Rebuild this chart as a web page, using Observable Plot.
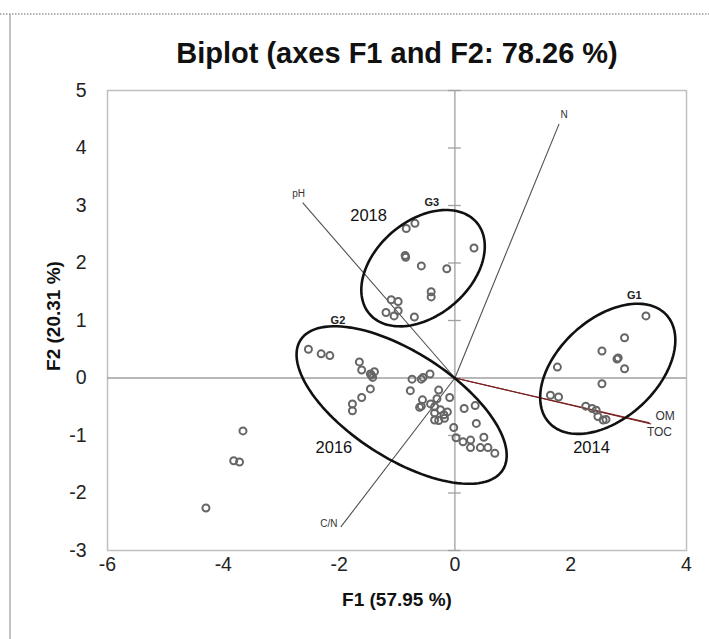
<!DOCTYPE html>
<html>
<head>
<meta charset="utf-8">
<script src="https://cdn.jsdelivr.net/npm/d3@7"></script>
<script src="https://cdn.jsdelivr.net/npm/@observablehq/plot@0.6"></script>
<style>
  html, body { margin: 0; padding: 0; background: #fff; }
  #chart { width: 709px; height: 639px; }
</style>
</head>
<body>
<div id="chart"></div>
<script>
// ---- Data ----
const title = "Biplot (axes F1 and F2: 78.26 %)";
const xTitle = "F1 (57.95 %)";
const yTitle = "F2 (20.31 %)";
const xTicks = [-6, -4, -2, 0, 2, 4];
const yTicks = [-3, -2, -1, 0, 1, 2, 3, 4, 5];

// observations (F1, F2)
const g1Points = [
  [3.30, 1.08], [2.93, 0.70], [2.54, 0.47], [2.80, 0.33], [2.82, 0.35],
  [2.93, 0.16], [1.77, 0.19], [2.54, -0.10], [1.65, -0.30], [1.79, -0.33],
  [2.26, -0.49], [2.37, -0.53], [2.44, -0.56], [2.47, -0.67], [2.56, -0.73], [2.61, -0.72]
];
const g2Points = [
  [-2.53, 0.50], [-2.31, 0.42], [-2.16, 0.39], [-1.65, 0.28], [-1.61, 0.14],
  [-1.46, 0.07], [-1.39, 0.11], [-1.42, 0.01], [-1.44, 0.05], [-1.46, -0.19],
  [-1.61, -0.34], [-1.77, -0.45], [-1.77, -0.57], [-0.74, -0.02], [-0.58, -0.02],
  [-0.55, 0.01], [-0.43, 0.07], [-0.77, -0.22], [-0.28, -0.21], [-0.09, -0.34],
  [-0.31, -0.36], [-0.56, -0.38], [-0.61, -0.51], [-0.58, -0.49], [-0.42, -0.45],
  [-0.35, -0.50], [-0.25, -0.55], [-0.13, -0.59], [-0.35, -0.61], [-0.19, -0.64],
  [-0.35, -0.73], [-0.28, -0.74], [-0.18, -0.70], [0.16, -0.53], [0.35, -0.48],
  [0.37, -0.79], [-0.02, -0.86], [0.02, -1.04], [0.14, -1.11], [0.27, -1.08],
  [0.27, -1.21], [0.50, -1.03], [0.44, -1.21], [0.57, -1.21], [0.69, -1.31]
];
const g3Points = [
  [-0.84, 2.60], [-0.69, 2.69], [0.33, 2.26], [-0.86, 2.13], [-0.85, 2.10],
  [-0.58, 1.95], [-0.14, 1.90], [-0.41, 1.50], [-0.41, 1.41], [-1.10, 1.36],
  [-0.98, 1.33], [-0.98, 1.17], [-1.19, 1.14], [-1.05, 1.08], [-0.70, 1.06]
];
const otherPoints = [
  [-3.66, -0.92], [-3.82, -1.44], [-3.72, -1.46], [-4.30, -2.26]
];

// variables (loadings, scaled)
const varNames = ["N", "pH", "C/N", "OM", "TOC"];
const varF1 = [1.80, -2.63, -1.97, 3.39, 3.36];
const varF2 = [4.42, 3.05, -2.59, -0.80, -0.78];

// confidence ellipses
const ellipseNames = ["G1", "G2", "G3"];
const ellipseYears = ["2014", "2016", "2018"];
const ellipseCx = [2.64, -0.92, -0.55];
const ellipseCy = [0.16, -0.47, 1.91];
const ellipseA = [1.38, 2.08, 1.22];
const ellipseB = [0.86, 0.92, 0.82];
const ellipseAngle = [43, -33, 41];

// ---- Build tables ----
const obs = [...g1Points, ...g2Points, ...g3Points, ...otherPoints].map(([x, y]) => ({x, y}));
const vars = varNames.map((name, i) => ({name, x: varF1[i], y: varF2[i]}));
const ellipsePts = [];
ellipseNames.forEach((g, i) => {
  const t = ellipseAngle[i] * Math.PI / 180;
  for (let k = 0; k <= 120; k++) {
    const a = (k / 120) * 2 * Math.PI;
    const ex = ellipseA[i] * Math.cos(a), ey = ellipseB[i] * Math.sin(a);
    ellipsePts.push({g, x: ellipseCx[i] + ex * Math.cos(t) - ey * Math.sin(t),
                         y: ellipseCy[i] + ex * Math.sin(t) + ey * Math.cos(t)});
  }
});
// label anchors (data space) for group / year labels
const groupLabels = [
  {t: "G1", x: 3.10, y: 1.44}, {t: "G2", x: -2.02, y: 1.00}, {t: "G3", x: -0.40, y: 3.05}
];
const yearLabels = [
  {t: "2014", x: 2.36, y: -1.22}, {t: "2016", x: -2.09, y: -1.21}, {t: "2018", x: -1.49, y: 2.83}
];
const tickHalf = 0.11;

const font = "'Liberation Sans', Arial, sans-serif";
const vec = n => vars.filter(d => d.name === n);
const fmt = d => String(d);

const chart = Plot.plot({
  width: 709, height: 639,
  marginLeft: 107, marginRight: 23, marginTop: 90, marginBottom: 89,
  style: {fontFamily: font, background: "white", overflow: "visible"},
  x: {domain: [-6, 4]},
  y: {domain: [-3, 5]},
  marks: [
    Plot.frame({stroke: "#c0c0c0", strokeWidth: 1.5}),
    Plot.ruleX([0], {stroke: "#a0a0a0", strokeWidth: 1.3}),
    Plot.ruleY([0], {stroke: "#a0a0a0", strokeWidth: 1.3}),
    Plot.ruleY(yTicks, {y: d => d, x1: -tickHalf, x2: tickHalf, stroke: "#a0a0a0", strokeWidth: 1.3}),
    Plot.axisX({ticks: xTicks, tickFormat: fmt, tickSize: 0, tickPadding: 7, label: null, fontSize: 19.5}),
    Plot.axisY({ticks: yTicks, tickFormat: fmt, tickSize: 0, tickPadding: 21, label: null, fontSize: 19.5}),
    Plot.link(vars.filter(d => d.name !== "OM" && d.name !== "TOC"), {x1: 0, y1: 0, x2: "x", y2: "y", stroke: "#505050", strokeWidth: 1.1}),
    Plot.link(vars.filter(d => d.name === "OM" || d.name === "TOC"), {x1: 0, y1: 0, x2: "x", y2: "y", stroke: "#7a1f1f", strokeWidth: 1.1}),
    Plot.dot(obs, {x: "x", y: "y", r: 3.5, stroke: "#666", strokeWidth: 2, fill: "none"}),
    Plot.line(ellipsePts, {x: "x", y: "y", z: "g", stroke: "#111", strokeWidth: 2.6}),
    Plot.text(vec("N"), {x: "x", y: "y", text: "name", dx: 5, dy: -9, fontSize: 10, fill: "#333"}),
    Plot.text(vec("pH"), {x: "x", y: "y", text: "name", dx: -4, dy: -9, fontSize: 10, fill: "#333"}),
    Plot.text(vec("C/N"), {x: "x", y: "y", text: "name", dx: -12, dy: -3, fontSize: 10, fill: "#333"}),
    Plot.text(vec("OM"), {x: "x", y: "y", text: "name", dx: 14, dy: -8, fontSize: 12, fill: "#333"}),
    Plot.text(vec("TOC"), {x: "x", y: "y", text: "name", dx: 10, dy: 9, fontSize: 12, fill: "#333"}),
    Plot.text(groupLabels, {x: "x", y: "y", text: "t", fontSize: 11, fontWeight: "bold", fill: "#222"}),
    Plot.text(yearLabels, {x: "x", y: "y", text: "t", fontSize: 16.5, fill: "#111"})
  ]
});

const svg = d3.select(chart);
svg.selectAll('g[aria-label$="tick label"]').attr("fill", "#222");
svg.append("text").attr("x", 397).attr("y", 55).attr("text-anchor", "middle")
  .attr("dominant-baseline", "middle").attr("font-family", font).attr("font-size", 29)
  .attr("font-weight", "bold").attr("fill", "#111").text(title);
svg.append("text").attr("x", 397).attr("y", 601).attr("text-anchor", "middle")
  .attr("dominant-baseline", "middle").attr("font-family", font).attr("font-size", 19)
  .attr("font-weight", "bold").attr("fill", "#111").text(xTitle);
svg.append("text").attr("transform", "translate(55,316) rotate(-90)").attr("text-anchor", "middle")
  .attr("dominant-baseline", "middle").attr("font-family", font).attr("font-size", 19)
  .attr("font-weight", "bold").attr("fill", "#111").text(yTitle);
// outer figure border
svg.append("line").attr("x1", 0).attr("x2", 709).attr("y1", 14).attr("y2", 14)
  .attr("stroke", "#999").attr("stroke-width", 1.5).attr("stroke-dasharray", "1.5,1.5");
svg.append("line").attr("x1", 10).attr("x2", 10).attr("y1", 14).attr("y2", 639)
  .attr("stroke", "#999").attr("stroke-width", 1.2);

document.getElementById("chart").appendChild(chart);
</script>
</body>
</html>
